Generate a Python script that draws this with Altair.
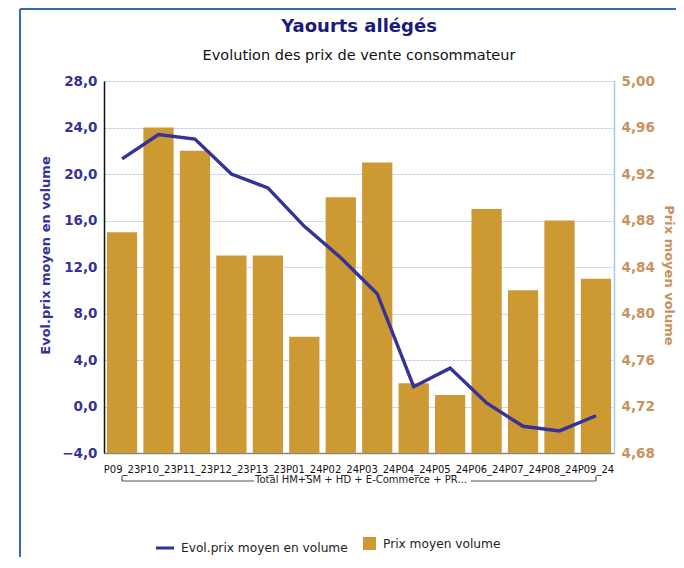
import altair as alt
import pandas as pd

periods = ["P09_23", "P10_23", "P11_23", "P12_23", "P13_23", "P01_24", "P02_24",
           "P03_24", "P04_24", "P05_24", "P06_24", "P07_24", "P08_24", "P09_24"]
prix_moyen = [4.87, 4.96, 4.94, 4.85, 4.85, 4.78, 4.90, 4.93, 4.74, 4.73, 4.89, 4.82, 4.88, 4.83]
evol_prix = [21.3, 23.4, 23.0, 20.0, 18.8, 15.5, 12.8, 9.7, 1.7, 3.3, 0.3, -1.7, -2.1, -0.8]
left_ticks = [-4, 0, 4, 8, 12, 16, 20, 24, 28]
right_ticks = [4.68, 4.72, 4.76, 4.80, 4.84, 4.88, 4.92, 4.96, 5.00]
right_min, right_max = 4.68, 5.00
title_text = "Yaourts allégés"
subtitle_text = "Evolution des prix de vente consommateur"
group_label = "Total HM+SM + HD + E-Commerce + PR..."
line_name = "Evol.prix moyen en volume"
bar_name = "Prix moyen volume"

df = pd.DataFrame({"periode": periods, "prix": prix_moyen, "evol": evol_prix,
                   "base": right_min, "s_line": line_name, "s_bar": bar_name})

FONT = "DejaVu Sans"
W, H = 510, 372

xscale = alt.Scale(domain=periods, paddingInner=0.17, paddingOuter=0.08)
xaxis = alt.Axis(title=None, labelAngle=0, labelFontSize=10, labelFont=FONT, labelColor="#111",
                 labelOverlap=False, ticks=False, domainColor="#888", domainWidth=1.5,
                 labelPadding=11)

bars = alt.Chart(df).mark_bar().encode(
    x=alt.X("periode:N", scale=xscale, axis=xaxis, sort=periods),
    y=alt.Y("prix:Q", scale=alt.Scale(domain=[right_min, right_max], zero=False, nice=False),
            axis=alt.Axis(orient="right", values=right_ticks,
                          labelExpr="replace(format(datum.value,'.2f'),'.',',')",
                          labelFont=FONT, labelFontSize=13.5, labelFontWeight="bold",
                          labelColor="#C8925E", labelPadding=7, ticks=False,
                          domainColor="#A8C8F0", domainWidth=1.5, grid=False,
                          title=bar_name, titleFont=FONT, titleFontSize=13,
                          titleFontWeight="bold", titleColor="#C8925E",
                          titleAngle=90, titleX=54, titleY=194, titleAlign="center",
                          titleBaseline="middle")),
    y2=alt.Y2("base:Q"),
    fill=alt.Fill("s_bar:N", scale=alt.Scale(domain=[bar_name], range=["#CC9933"]),
                  legend=alt.Legend(orient="none", legendX=259, legendY=456, title=None,
                                    symbolType="square", symbolSize=169,
                                    symbolFillColor="#CC9933", symbolStrokeWidth=0,
                                    symbolOpacity=1, labelFont=FONT, labelLimit=300,
                                    labelFontSize=12.2, labelColor="#222", padding=0,
                                    labelOffset=7)),
)

line = alt.Chart(df).mark_line(strokeWidth=3.4).encode(
    x=alt.X("periode:N", scale=xscale, axis=xaxis, sort=periods),
    y=alt.Y("evol:Q", scale=alt.Scale(domain=[-4, 28], nice=False, zero=False),
            axis=alt.Axis(orient="left", values=left_ticks,
                          labelExpr="replace(format(datum.value,'.1f'),'.',',')",
                          labelFont=FONT, labelFontSize=13.5, labelFontWeight="bold",
                          labelColor="#333399", labelPadding=7, ticks=False,
                          domainColor="#111", domainWidth=1.5,
                          grid=True, gridColor="#B8D0EE", gridWidth=1.2, gridDash=[3, 1],
                          title=line_name, titleFont=FONT, titleFontSize=13,
                          titleFontWeight="bold", titleColor="#333399",
                          titleAngle=-90, titleX=-59, titleY=174, titleAlign="center",
                          titleBaseline="middle")),
    stroke=alt.Stroke("s_line:N", scale=alt.Scale(domain=[line_name], range=["#333399"]),
                      legend=alt.Legend(orient="none", legendX=50, legendY=456, title=None,
                                        symbolType="stroke", symbolSize=330,
                                        symbolStrokeWidth=3, labelFont=FONT, labelLimit=300,
                                        labelFontSize=12.2, labelColor="#222", padding=0,
                                        labelOffset=5)),
)

grp = pd.DataFrame({"label": [group_label], "first": [periods[0]], "last": [periods[-1]],
                    "title": [title_text], "subtitle": [subtitle_text]})
br_y = 400
bcol = "#555"
bracket_left = alt.Chart(grp).mark_rule(color=bcol, strokeWidth=1.2).encode(
    x=alt.X("first:N", scale=xscale, sort=periods), x2=alt.value(150), y=alt.value(br_y))
bracket_right = alt.Chart(grp).mark_rule(color=bcol, strokeWidth=1.2).encode(
    x=alt.X("last:N", scale=xscale, sort=periods), x2=alt.value(367), y=alt.value(br_y))
tick_left = alt.Chart(grp).mark_rule(color=bcol, strokeWidth=1.2).encode(
    x=alt.X("first:N", scale=xscale, sort=periods), y=alt.value(br_y - 5), y2=alt.value(br_y))
tick_right = alt.Chart(grp).mark_rule(color=bcol, strokeWidth=1.2).encode(
    x=alt.X("last:N", scale=xscale, sort=periods), y=alt.value(br_y - 5), y2=alt.value(br_y))
group_text = alt.Chart(grp).mark_text(font=FONT, fontSize=10, color="#222",
                                      baseline="middle").encode(
    text="label:N", x=alt.value(257), y=alt.value(br_y - 1))

title_mark = alt.Chart(grp).mark_text(font=FONT, fontSize=18, fontWeight="bold",
                                      color="#1A1A80", baseline="middle").encode(
    text="title:N", x=alt.value(W / 2), y=alt.value(-54))
subtitle_mark = alt.Chart(grp).mark_text(font=FONT, fontSize=14.5, color="#111",
                                         baseline="middle").encode(
    text="subtitle:N", x=alt.value(W / 2), y=alt.value(-25))

frame_left = alt.Chart(grp).mark_rule(color="#2E6DB4", strokeWidth=2).encode(
    x=alt.value(-84), y=alt.value(-72), y2=alt.value(490))
frame_top = alt.Chart(grp).mark_rule(color="#2E6DB4", strokeWidth=2).encode(
    x=alt.value(-84), x2=alt.value(600), y=alt.value(-72))

chart = alt.layer(
    bars, line, bracket_left, bracket_right, tick_left, tick_right, group_text,
    title_mark, subtitle_mark, frame_left, frame_top
).resolve_scale(y="independent").properties(
    width=W, height=H,
    autosize=alt.AutoSizeParams(type="none"),
    padding={"left": 96, "top": 73, "right": 62, "bottom": 104},
).configure_view(stroke=None)

chart.save("out.html", embed_options={"renderer": "svg", "actions": False})
